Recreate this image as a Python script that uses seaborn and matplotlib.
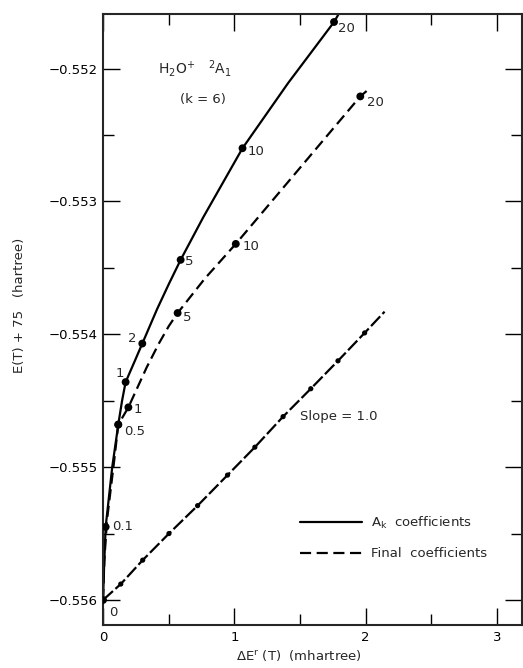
import matplotlib
matplotlib.use("Agg")
import matplotlib.pyplot as plt
import matplotlib.ticker as mticker
import pandas as pd
import seaborn as sns

# ------------------------------------------------------------
# data (E in hartree, dE in mhartree)
# ------------------------------------------------------------
# A_k coefficients: labelled points
ak_x = [0.0, 0.020, 0.116, 0.172, 0.299, 0.591, 1.062, 1.759]
ak_y = [-0.55600, -0.55545, -0.55468, -0.55436, -0.55407, -0.55344, -0.55260, -0.55165]
ak_labels = ["0", "0.1", "0.5", "1", "2", "5", "10", "20"]
# traced curve for the solid line (markers plus in-between points)
ak_line_x = [0.0, 0.008, 0.020, 0.070, 0.116, 0.145, 0.172, 0.238, 0.299, 0.412,
             0.502, 0.591, 0.763, 1.062, 1.409, 1.759, 1.80]
ak_line_y = [-0.55600, -0.55575, -0.55545, -0.55500, -0.55468, -0.55450, -0.55436,
             -0.55421, -0.55407, -0.55381, -0.55362, -0.55344, -0.55312, -0.55260,
             -0.55211, -0.55165, -0.55158]

# final coefficients
fin_x = [0.0, 0.116, 0.193, 0.568, 1.011, 1.959]
fin_y = [-0.55600, -0.55468, -0.55455, -0.55384, -0.55332, -0.55221]
fin_labels = ["", "", "1", "5", "10", "20"]
fin_line_x = [0.0, 0.010, 0.030, 0.085, 0.116, 0.193, 0.332, 0.425, 0.500, 0.568,
              0.776, 1.011, 1.959, 2.03]
fin_line_y = [-0.55600, -0.55570, -0.55540, -0.55495, -0.55468, -0.55455, -0.55425,
              -0.55407, -0.55394, -0.55384, -0.55358, -0.55332, -0.55221, -0.55215]

# slope = 1.0 reference line
slope_x = [0.0, 0.135, 0.302, 0.502, 0.720, 0.948, 1.156, 1.371, 1.582, 1.789, 1.992]
slope_y = [-0.55600, -0.55588, -0.55570, -0.55550, -0.55529, -0.55506, -0.55485,
           -0.55462, -0.55441, -0.55420, -0.55399]
slope_line_x = slope_x + [2.144]
slope_line_y = slope_y + [-0.55383]

x_ticks = [0, 1, 2, 3]
y_ticks = [-0.556, -0.555, -0.554, -0.553, -0.552]

# label offsets in pixels (placement only)
ak_offsets = [(10, -12, "center"), (6, 0, "left"), (6, -7, "left"), (-6, 9, "center"),
              (-10, 5, "center"), (4, -2, "left"), (5, -3, "left"), (4, -6, "left")]
fin_offsets = [(0, 0, "left"), (0, 0, "left"), (5, -2, "left"), (5, -5, "left"),
               (7, -3, "left"), (7, -6, "left")]

# ------------------------------------------------------------
# figure
# ------------------------------------------------------------
sns.set_style("ticks")
plt.rcParams["font.family"] = ["DejaVu Sans"]
plt.rcParams["axes.unicode_minus"] = True

fig = plt.figure(figsize=(5.23, 6.68), dpi=100)
ax = fig.add_axes([0.197, 0.064, 0.801, 0.915])

lw = 1.6
ak_df = pd.DataFrame({"x": ak_line_x, "y": ak_line_y})
fin_df = pd.DataFrame({"x": fin_line_x, "y": fin_line_y})
sl_df = pd.DataFrame({"x": slope_line_x, "y": slope_line_y})

sns.lineplot(data=ak_df, x="x", y="y", sort=False, estimator=None, color="black",
             lw=lw, ax=ax, label="A$_\\mathregular{k}$  coefficients")
sns.lineplot(data=fin_df, x="x", y="y", sort=False, estimator=None, color="black",
             lw=lw, ax=ax, label="Final  coefficients")
ax.lines[-1].set_dashes((5.0, 2.5))
sns.lineplot(data=sl_df, x="x", y="y", sort=False, estimator=None, color="black",
             lw=lw, ax=ax)
ax.lines[-1].set_dashes((6.0, 1.5))

sns.scatterplot(x=ak_x, y=ak_y, color="black", s=32, edgecolor="none", ax=ax, zorder=5)
sns.scatterplot(x=fin_x[1:], y=fin_y[1:], color="black", s=32, edgecolor="none", ax=ax, zorder=5)
sns.scatterplot(x=slope_x[1:], y=slope_y[1:], color="black", s=14, edgecolor="none", ax=ax, zorder=5)

fs = 9.5
for x, y, lab, (dx, dy, ha) in zip(ak_x, ak_y, ak_labels, ak_offsets):
    ax.annotate(lab, (x, y), xytext=(dx, dy), textcoords="offset pixels",
                ha=ha, va="center", fontsize=fs)
for x, y, lab, (dx, dy, ha) in zip(fin_x, fin_y, fin_labels, fin_offsets):
    if lab:
        ax.annotate(lab, (x, y), xytext=(dx, dy), textcoords="offset pixels",
                    ha=ha, va="center", fontsize=fs)

ax.text(0.42, -0.55200, "H$_\\mathregular{2}$O$^\\mathregular{+}$   $^\\mathregular{2}$A$_\\mathregular{1}$",
        fontsize=10, va="center", ha="left")
ax.text(0.76, -0.55223, "(k = 6)", fontsize=9.5, va="center", ha="center")
ax.text(1.50, -0.55462, "Slope = 1.0", fontsize=9.5, va="center", ha="left")

leg = ax.legend(loc="upper left", bbox_to_anchor=(0.47, 0.181), frameon=False,
                fontsize=9.5, handlelength=4.7, handletextpad=0.7, labelspacing=1.25,
                borderpad=0, borderaxespad=0)

ax.set_xlim(0, 3.19)
ax.set_ylim(-0.55619, -0.55159)
ax.set_xticks(x_ticks)
ax.set_yticks(y_ticks)
ax.set_xticklabels([str(t) for t in x_ticks])
ax.set_yticklabels([f"\u2212{abs(t):.3f}" for t in y_ticks])
ax.xaxis.set_minor_locator(mticker.MultipleLocator(0.5))
ax.yaxis.set_minor_locator(mticker.MultipleLocator(0.0005))
ax.tick_params(which="both", direction="in", top=True, right=True, width=1.0,
               colors="black", labelsize=9.5)
ax.tick_params(which="major", length=12, pad=4)
ax.tick_params(which="minor", length=8)
for sp in ax.spines.values():
    sp.set_linewidth(1.5)
    sp.set_visible(True)

ax.set_xlabel("\u0394E$^\\mathregular{r}$ (T)  (mhartree)", fontsize=9.5)
ax.set_ylabel("E(T) + 75   (hartree)", fontsize=9.5)
ax.xaxis.set_label_coords(0.468, -0.038)
ax.yaxis.set_label_coords(-0.185, 0.524)

fig.savefig("out.png", dpi=100)
